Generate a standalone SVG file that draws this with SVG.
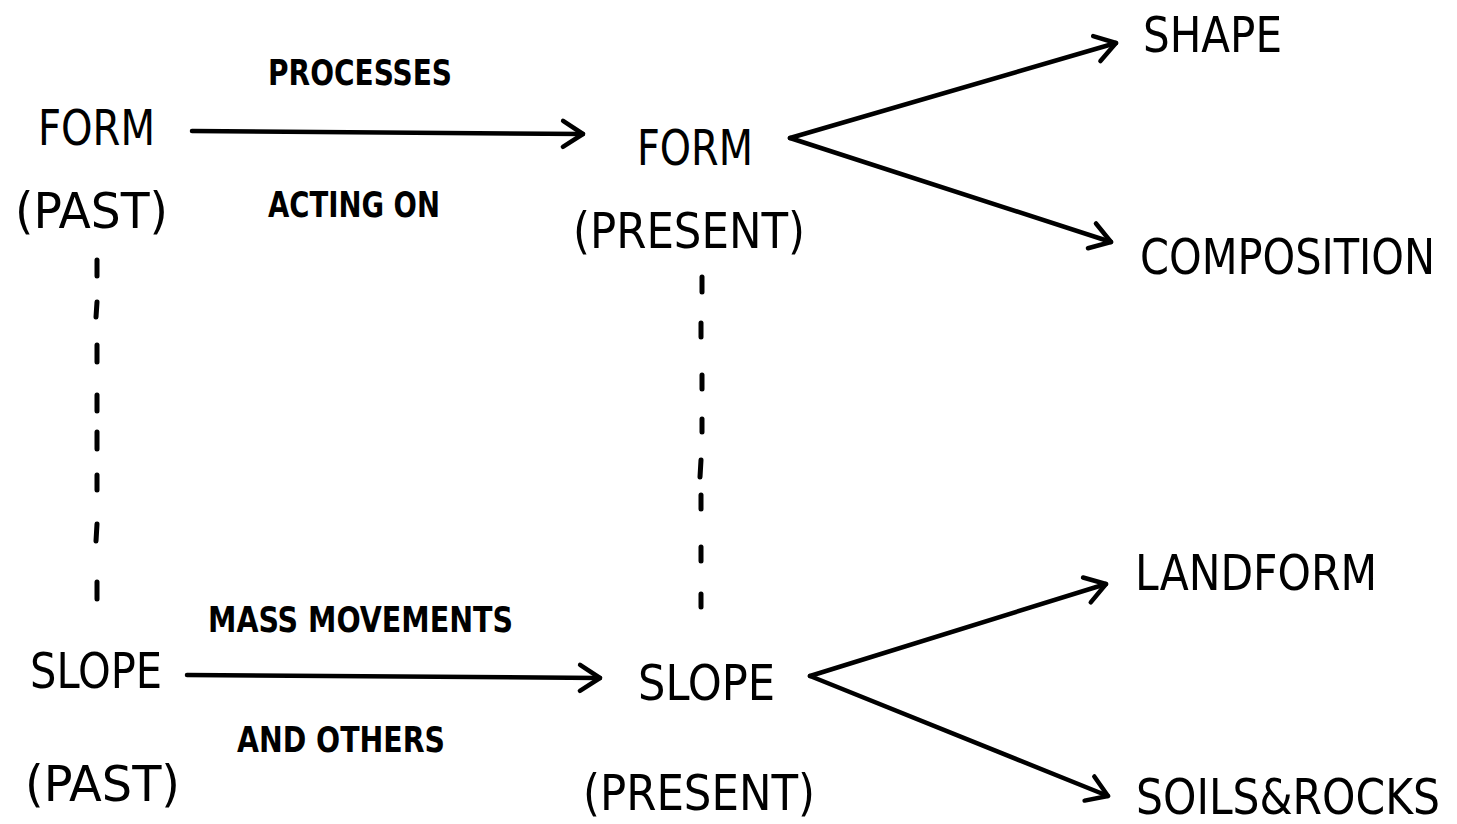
<svg xmlns="http://www.w3.org/2000/svg" width="1457" height="824" viewBox="0 0 1457 824">
<style>
.t{font-family:"DejaVu Sans Condensed","DejaVu Sans","Liberation Sans",sans-serif;fill:#000}
.n{font-size:50px}
.e{font-size:36px;font-weight:bold}
.c{stroke:#000;stroke-width:4.5;fill:none;stroke-linecap:round;stroke-linejoin:round}
.d{stroke:#000;stroke-width:5;stroke-linecap:round}
</style>
<defs>
<marker id="ah" markerUnits="userSpaceOnUse" markerWidth="40" markerHeight="40" viewBox="-30 -20 40 40" refX="0" refY="0" orient="auto">
<polyline points="-20,-13 0,0 -20,13" fill="none" stroke="#000" stroke-width="4.5" stroke-linecap="round" stroke-linejoin="round"/>
</marker>
</defs>
<rect width="1457" height="824" fill="#fff"/>
<g id="connectors">
<line class="c" x1="192" y1="131" x2="583" y2="134" marker-end="url(#ah)"/>
<line class="c" x1="187" y1="675" x2="600" y2="678" marker-end="url(#ah)"/>
<line class="c" x1="790" y1="138" x2="1116" y2="43" marker-end="url(#ah)"/>
<line class="c" x1="790" y1="138" x2="1111" y2="242" marker-end="url(#ah)"/>
<line class="c" x1="810" y1="676" x2="1106" y2="584" marker-end="url(#ah)"/>
<line class="c" x1="810" y1="676" x2="1108" y2="796" marker-end="url(#ah)"/>
<g id="dash-left">
<line class="d" x1="97" y1="260" x2="97" y2="276"/>
<line class="d" x1="97" y1="302" x2="96" y2="317"/>
<line class="d" x1="97" y1="345" x2="97" y2="362"/>
<line class="d" x1="97" y1="395" x2="97" y2="411"/>
<line class="d" x1="97" y1="432" x2="97" y2="449"/>
<line class="d" x1="97" y1="475" x2="97" y2="490"/>
<line class="d" x1="97" y1="524" x2="96" y2="541"/>
<line class="d" x1="97" y1="582" x2="97" y2="599"/>
</g>
<g id="dash-right">
<line class="d" x1="702" y1="277" x2="702" y2="292"/>
<line class="d" x1="701" y1="323" x2="701" y2="337"/>
<line class="d" x1="702" y1="375" x2="702" y2="389"/>
<line class="d" x1="702" y1="419" x2="702" y2="432"/>
<line class="d" x1="701" y1="460" x2="700" y2="477"/>
<line class="d" x1="701" y1="495" x2="701" y2="509"/>
<line class="d" x1="701" y1="547" x2="701" y2="561"/>
<line class="d" x1="701" y1="594" x2="701" y2="607"/>
</g>
</g>
<g id="form-past">
<text class="t n" x="38" y="145" textLength="117" lengthAdjust="spacingAndGlyphs">FORM</text>
<text class="t n" x="15" y="228" textLength="153" lengthAdjust="spacingAndGlyphs">(PAST)</text>
</g>
<g id="label-processes">
<text class="t e" x="268" y="85" textLength="184" lengthAdjust="spacingAndGlyphs">PROCESSES</text>
<text class="t e" x="268" y="217" textLength="172" lengthAdjust="spacingAndGlyphs">ACTING ON</text>
</g>
<g id="form-present">
<text class="t n" x="637" y="165" textLength="116" lengthAdjust="spacingAndGlyphs">FORM</text>
<text class="t n" x="573" y="248" textLength="232" lengthAdjust="spacingAndGlyphs">(PRESENT)</text>
</g>
<g id="shape">
<text class="t n" x="1143" y="52" textLength="139" lengthAdjust="spacingAndGlyphs">SHAPE</text>
</g>
<g id="composition">
<text class="t n" x="1140" y="274" textLength="295" lengthAdjust="spacingAndGlyphs">COMPOSITION</text>
</g>
<g id="slope-past">
<text class="t n" x="30" y="688" textLength="132" lengthAdjust="spacingAndGlyphs">SLOPE</text>
<text class="t n" x="25" y="801" textLength="155" lengthAdjust="spacingAndGlyphs">(PAST)</text>
</g>
<g id="label-mass">
<text class="t e" x="208" y="632" textLength="305" lengthAdjust="spacingAndGlyphs">MASS MOVEMENTS</text>
<text class="t e" x="237" y="752" textLength="208" lengthAdjust="spacingAndGlyphs">AND OTHERS</text>
</g>
<g id="slope-present">
<text class="t n" x="638" y="700" textLength="137" lengthAdjust="spacingAndGlyphs">SLOPE</text>
<text class="t n" x="583" y="810" textLength="232" lengthAdjust="spacingAndGlyphs">(PRESENT)</text>
</g>
<g id="landform">
<text class="t n" x="1135" y="590" textLength="242" lengthAdjust="spacingAndGlyphs">LANDFORM</text>
</g>
<g id="soils-rocks">
<text class="t n" x="1136" y="814" textLength="304" lengthAdjust="spacingAndGlyphs">SOILS&amp;ROCKS</text>
</g>
</svg>
